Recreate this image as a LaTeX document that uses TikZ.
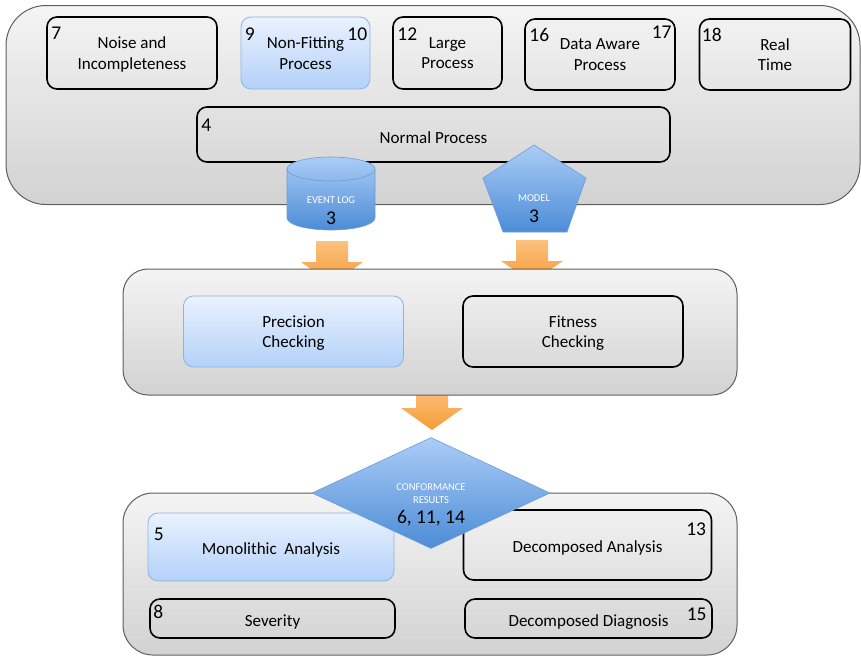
\documentclass[tikz,border=0pt]{standalone}
\usepackage{fontspec}
\setmainfont{Carlito}
\usetikzlibrary{shapes.geometric}

\definecolor{panelTop}{HTML}{F4F4F4}
\definecolor{panelBot}{HTML}{D2D2D2}
\definecolor{panelRim}{HTML}{5E5E5E}
\definecolor{blueTop}{HTML}{EAF2FE}
\definecolor{blueBot}{HTML}{B3D1F9}
\definecolor{blueRim}{HTML}{8DB3E2}
\definecolor{storeTop}{HTML}{ABCDF7}
\definecolor{storeBot}{HTML}{4C8CD6}
\definecolor{storeRim}{HTML}{6D9CD6}
\definecolor{flowTop}{HTML}{FCC27E}
\definecolor{flowBot}{HTML}{F59B36}

\newcommand\bodyfont{\fontsize{17}{20.5}\selectfont}
\newcommand\numfont{\fontsize{19.5}{22}\selectfont}
\newcommand\tagfont{\fontsize{10.5}{13}\selectfont}

\begin{document}
\begin{tikzpicture}[x=1pt,y=-1pt]
  \tikzstyle{panel}=[rectangle, draw=panelRim, line width=1pt, top color=panelTop, bottom color=panelBot]
  \tikzstyle{item}=[rectangle, rounded corners=10pt, draw=black, line width=1.6pt, align=center, inner sep=0pt, font=\bodyfont, execute at begin node={\rule{0pt}{18pt}}]
  \tikzstyle{two line}=[text depth=-6pt]
  \tikzstyle{blue item}=[item, draw=blueRim, line width=0.8pt, top color=blueTop, bottom color=blueBot]
  \tikzstyle{num}=[inner xsep=5pt, inner ysep=11pt, font=\numfont]
  \tikzstyle{store}=[draw=storeRim, line width=0.6pt, top color=storeTop, bottom color=storeBot]
  \tikzstyle{tag}=[inner sep=0pt, text=white, font=\tagfont, align=center]
  \tikzstyle{flow arrow}=[top color=flowTop, bottom color=flowBot]

  \useasboundingbox (0,0) rectangle (861,657);

  % Draw the input panel
  \node[panel, rounded corners=40pt, minimum width=854, minimum height=199] (inputs) at (433,105) {};

  \node[item, two line, minimum width=170, minimum height=72, label={[num,anchor=north west]north west:7}] (noise) at (132,53) {Noise and\\Incompleteness};
  \node[blue item, two line, minimum width=129, minimum height=72, label={[num,anchor=north west,inner xsep=4pt]north west:9}, label={[num,anchor=north east,inner xsep=3pt]north east:10}] (nonfit) at (305.5,53) {Non-Fitting\\Process};
  \node[item, two line, minimum width=109, minimum height=72, label={[num,anchor=north west]north west:12}] (large) at (447.5,53) {Large\\Process};
  \node[item, two line, minimum width=150, minimum height=71, label={[num,anchor=north west,inner ysep=10pt]north west:16}, label={[num,anchor=north east,inner xsep=4pt,inner ysep=8pt]north east:17}] (aware) at (600,54.5) {Data Aware\\Process};
  \node[item, two line, minimum width=151, minimum height=71, label={[num,anchor=north west,inner xsep=3pt,inner ysep=10pt]north west:18}] (realtime) at (775,54.5) {Real\\Time};
  \node[item, minimum width=473, minimum height=55, label={[num,anchor=north west,inner ysep=13pt]north west:4}] (normal) at (433.5,134.5) {Normal Process};

  % Event log and model
  \path[store] (287,169) -- (287,218) arc[start angle=180, end angle=360, x radius=44pt, y radius=12pt]
    -- (375,169) arc[start angle=0, end angle=180, x radius=44pt, y radius=12pt] -- cycle;
  \draw[storeRim, line width=0.6pt] (287,169) arc[start angle=180, end angle=360, x radius=44pt, y radius=12pt];
  \node[tag] (logl) at (331,200) {EVENT LOG};
  \node[tag, text=black, font=\numfont] (logn) at (331,218) {3};

  \path[store] (534,145) -- (586,178) -- (567,232) -- (503,232) -- (483,178) -- cycle;
  \node[tag] (modell) at (534,198) {MODEL};
  \node[tag, text=black, font=\numfont] (modeln) at (534,216) {3};

  % Flow arrows
  \foreach \cx/\ty/\hy/\tip in {332/241/262/284, 532/240/261/282, 432/387/408/430}
  \path[flow arrow] (\cx-16,\ty) -- (\cx+16,\ty) -- (\cx+16,\hy) -- (\cx+31,\hy)
    -- (\cx,\tip) -- (\cx-31,\hy) -- (\cx-16,\hy) -- cycle;

  % Draw the checking panel
  \node[panel, rounded corners=25pt, minimum width=614, minimum height=126] (checking) at (430,332) {};
  \node[blue item, two line, minimum width=220, minimum height=71] (precision) at (293.5,331.5) {Precision\\Checking};
  \node[item, two line, minimum width=220, minimum height=71] (fitness) at (573,331.5) {Fitness\\Checking};

  % Draw the analysis panel
  \node[panel, rounded corners=30pt, minimum width=614, minimum height=162] (analysis) at (430,574) {};
  \node[blue item, minimum width=246, minimum height=68, label={[num,anchor=north west,inner xsep=6pt,inner ysep=15pt]north west:5}] (mono) at (271,547) {Monolithic\ \ Analysis};
  \node[item, minimum width=248, minimum height=70, label={[num,anchor=north east,inner xsep=6pt,inner ysep=13pt]north east:13}] (decana) at (587.5,545) {Decomposed Analysis};
  \node[item, minimum width=245, minimum height=39, label={[num,anchor=north west,inner xsep=4pt,inner ysep=7pt]north west:8}] (severity) at (272.5,618.5) {Severity};
  \node[item, minimum width=247, minimum height=39, label={[num,anchor=east,inner xsep=6pt,yshift=4pt]east:15}] (decdiag) at (588.5,618.5) {Decomposed Diagnosis};

  % Conformance results
  \node[diamond, store, aspect=2.14, minimum width=238, minimum height=111, inner sep=0pt] (results) at (431,493) {};
  \node[tag] (resultsl) at (431,494) {CONFORMANCE\\RESULTS};
  \node[tag, text=black, font=\numfont] (resultsn) at (431,518) {6, 11, 14};
\end{tikzpicture}
\end{document}
